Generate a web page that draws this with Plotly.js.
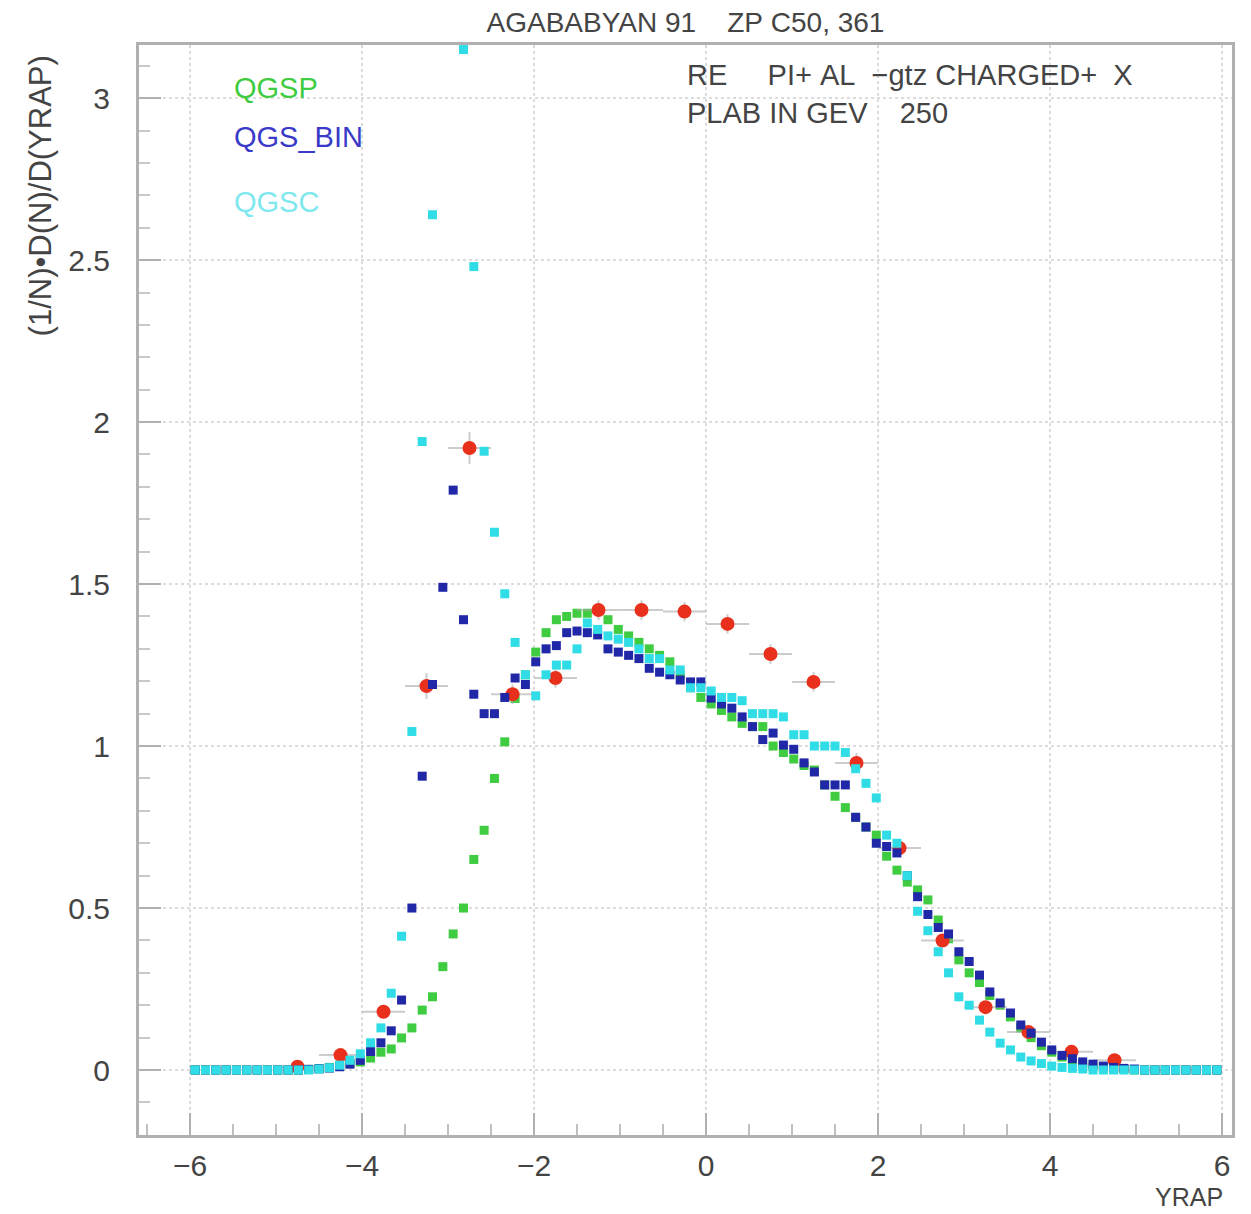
<!DOCTYPE html>
<html>
<head>
<meta charset="utf-8">
<script src="https://cdn.plot.ly/plotly-3.0.1.min.js"></script>
<style>html,body{margin:0;padding:0;background:#fff;}#plot{width:1251px;height:1214px;}</style>
</head>
<body>
<div id="plot"></div>
<script>
// bin centres (YRAP)
const binCenters = [
-5.94,-5.82,-5.70,-5.58,-5.46,-5.34,-5.22,-5.10,-4.98,-4.86,
-4.74,-4.62,-4.50,-4.38,-4.26,-4.14,-4.02,-3.90,-3.78,-3.66,
-3.54,-3.42,-3.30,-3.18,-3.06,-2.94,-2.82,-2.70,-2.58,-2.46,
-2.34,-2.22,-2.10,-1.98,-1.86,-1.74,-1.62,-1.50,-1.38,-1.26,
-1.14,-1.02,-0.90,-0.78,-0.66,-0.54,-0.42,-0.30,-0.18,-0.06,
0.06,0.18,0.30,0.42,0.54,0.66,0.78,0.90,1.02,1.14,
1.26,1.38,1.50,1.62,1.74,1.86,1.98,2.10,2.22,2.34,
2.46,2.58,2.70,2.82,2.94,3.06,3.18,3.30,3.42,3.54,
3.66,3.78,3.90,4.02,4.14,4.26,4.38,4.50,4.62,4.74,
4.86,4.98,5.10,5.22,5.34,5.46,5.58,5.70,5.82,5.94];

const qgsp = [
0,0,0,0,0,0,0,0,0,0,
0,0.002,0.004,0.008,0.013,0.02,0.025,0.037,0.055,0.065,
0.099,0.13,0.185,0.226,0.319,0.42,0.50,0.65,0.74,0.90,
1.013,1.147,1.22,1.29,1.35,1.39,1.40,1.41,1.41,1.42,
1.39,1.36,1.34,1.32,1.30,1.28,1.26,1.22,1.18,1.15,
1.13,1.11,1.09,1.07,1.06,1.06,1.00,0.98,0.96,0.94,
0.926,0.88,0.845,0.81,0.78,0.75,0.725,0.66,0.617,0.58,
0.556,0.525,0.463,0.405,0.34,0.30,0.27,0.23,0.20,0.164,
0.13,0.10,0.075,0.055,0.04,0.028,0.018,0.012,0.008,0.005,
0.003,0,0,0,0,0,0,0,0,0];

const qgsBin = [
0,0,0,0,0,0,0,0,0,0,
0,0.002,0.004,0.006,0.01,0.018,0.03,0.057,0.084,0.121,
0.216,0.50,0.907,1.19,1.49,1.79,1.39,1.16,1.10,1.10,
1.15,1.21,1.19,1.26,1.30,1.31,1.35,1.355,1.35,1.343,
1.30,1.29,1.28,1.27,1.24,1.228,1.22,1.204,1.198,1.198,
1.148,1.13,1.117,1.09,1.06,1.02,1.04,1.003,0.99,0.948,
0.92,0.88,0.88,0.88,0.78,0.75,0.70,0.69,0.67,0.60,
0.535,0.48,0.44,0.42,0.365,0.335,0.293,0.241,0.207,0.176,
0.139,0.114,0.086,0.062,0.045,0.035,0.025,0.018,0.012,0.008,
0.005,0.003,0,0,0,0,0,0,0,0];

const qgsc = [
0,0,0,0,0,0,0,0,0,0,
0,0,0.003,0.007,0.015,0.03,0.05,0.084,0.13,0.237,
0.413,1.045,1.94,2.64,3.6,3.7,3.15,2.48,1.91,1.66,
1.47,1.32,1.22,1.155,1.22,1.25,1.25,1.30,1.38,1.36,
1.34,1.33,1.32,1.30,1.27,1.27,1.235,1.235,1.18,1.18,
1.17,1.15,1.15,1.14,1.10,1.10,1.10,1.09,1.035,1.035,
1.0,1.0,1.0,0.98,0.93,0.885,0.84,0.725,0.70,0.60,
0.49,0.43,0.365,0.30,0.226,0.20,0.154,0.117,0.083,0.062,
0.04,0.028,0.02,0.012,0.008,0.005,0.003,0,0,0,
0,0,0,0,0,0,0,0,0,0];

// experimental data
const dataX = [-4.75,-4.25,-3.75,-3.25,-2.75,-2.25,-1.75,-1.25,-0.75,-0.25,0.25,0.75,1.25,1.75,2.25,2.75,3.25,3.75,4.25,4.75];
const dataY = [0.01,0.046,0.18,1.185,1.92,1.16,1.21,1.42,1.42,1.415,1.377,1.284,1.198,0.948,0.685,0.40,0.194,0.117,0.056,0.03];
const dataXerr = [0.25,0.25,0.25,0.25,0.25,0.25,0.25,0.25,0.25,0.25,0.25,0.25,0.25,0.25,0.25,0.25,0.25,0.25,0.25,0.25];
const dataYerr = [0.005,0.01,0.02,0.04,0.05,0.03,0.03,0.03,0.03,0.03,0.03,0.03,0.03,0.03,0.02,0.02,0.01,0.01,0.005,0.005];

const seriesNames = ['QGSP','QGS_BIN','QGSC'];
const seriesColors = ['#40cc40','#2028a8','#30dde6'];
const dataColor = '#e8301c';

const sq = (c)=>({symbol:'square',size:9,color:c,line:{width:0}});

const traces = [
  {x:binCenters,y:qgsp,type:'scatter',mode:'markers',name:seriesNames[0],marker:sq(seriesColors[0])},
  {x:dataX,y:dataY,type:'scatter',mode:'markers',name:'DATA',
   marker:{symbol:'circle',size:14,color:dataColor},
   error_x:{type:'data',array:dataXerr,visible:true,color:'rgba(170,170,170,0.6)',thickness:2,width:0},
   error_y:{type:'data',array:dataYerr,visible:true,color:'rgba(170,170,170,0.6)',thickness:2,width:0}},
  {x:binCenters,y:qgsBin,type:'scatter',mode:'markers',name:seriesNames[1],marker:sq(seriesColors[1])},
  {x:binCenters,y:qgsc,type:'scatter',mode:'markers',name:seriesNames[2],marker:sq(seriesColors[2])}
];

const FAM = 'Liberation Sans, Arial, sans-serif';
const fnt = {family:FAM,size:29,color:'#444'};
const nb = (s)=>s.replace(/ /g,'\u00A0');

const layout = {
  width:1251,height:1214,
  margin:{l:139,r:19,t:45,b:79,pad:0},
  paper_bgcolor:'#fff',plot_bgcolor:'#fff',
  showlegend:false,
  title:{text:nb('AGABABYAN 91    ZP C50, 361'),x:0.5,xref:'paper',y:0.982,yanchor:'middle',
         font:{family:FAM,size:28,color:'#444'}},
  xaxis:{range:[-6.593,6.116],dtick:2,tick0:0,showgrid:true,gridcolor:'#dcdcdc',griddash:'dot',gridwidth:2,
         zeroline:false,showline:true,linecolor:'#b0b0b0',linewidth:3,mirror:true,
         ticks:'inside',ticklen:22,tickcolor:'#b0b0b0',tickwidth:2,
         minor:{dtick:0.5,ticks:'inside',ticklen:11,tickcolor:'#c0c0c0',tickwidth:2,showgrid:false},
         tickfont:{family:FAM,size:30,color:'#444'},ticklabelstandoff:2},
  yaxis:{range:[-0.2006,3.164],dtick:0.5,tick0:0,showgrid:true,gridcolor:'#dcdcdc',griddash:'dot',gridwidth:2,
         zeroline:false,showline:true,linecolor:'#b0b0b0',linewidth:3,mirror:true,
         ticks:'inside',ticklen:22,tickcolor:'#b0b0b0',tickwidth:2,
         minor:{dtick:0.1,ticks:'inside',ticklen:11,tickcolor:'#c8c8c8',tickwidth:2,showgrid:false},
         tickfont:{family:FAM,size:30,color:'#444'},ticklabelstandoff:20},
  annotations:[
    {text:seriesNames[0],xref:'paper',yref:'paper',x:0.085,y:0.9606,xanchor:'left',yanchor:'middle',showarrow:false,
     font:{family:FAM,size:29,color:seriesColors[0]}},
    {text:seriesNames[1],xref:'paper',yref:'paper',x:0.085,y:0.9156,xanchor:'left',yanchor:'middle',showarrow:false,
     font:{family:FAM,size:29,color:'#3a3ac8'}},
    {text:seriesNames[2],xref:'paper',yref:'paper',x:0.085,y:0.856,xanchor:'left',yanchor:'middle',showarrow:false,
     font:{family:FAM,size:29,color:'#7ee8ee'}},
    {text:nb('RE     PI+ AL  −gtz CHARGED+  X'),xref:'paper',yref:'paper',x:0.4995,y:0.9725,xanchor:'left',yanchor:'middle',showarrow:false,font:fnt},
    {text:nb('PLAB IN GEV    250'),xref:'paper',yref:'paper',x:0.4995,y:0.9376,xanchor:'left',yanchor:'middle',showarrow:false,font:fnt},
    {text:'(1/N)•D(N)/D(YRAP)',xref:'paper',yref:'paper',x:-0.0906,y:0.862,xanchor:'center',yanchor:'middle',textangle:-90,showarrow:false,
     font:{family:FAM,size:31,color:'#444'}},
    {text:'YRAP',xref:'paper',yref:'paper',x:0.9936,y:-0.0569,xanchor:'right',yanchor:'middle',showarrow:false,
     font:{family:FAM,size:25,color:'#444'}}
  ]
};

Plotly.newPlot('plot',traces,layout,{displayModeBar:false,staticPlot:true});
</script>
</body>
</html>
